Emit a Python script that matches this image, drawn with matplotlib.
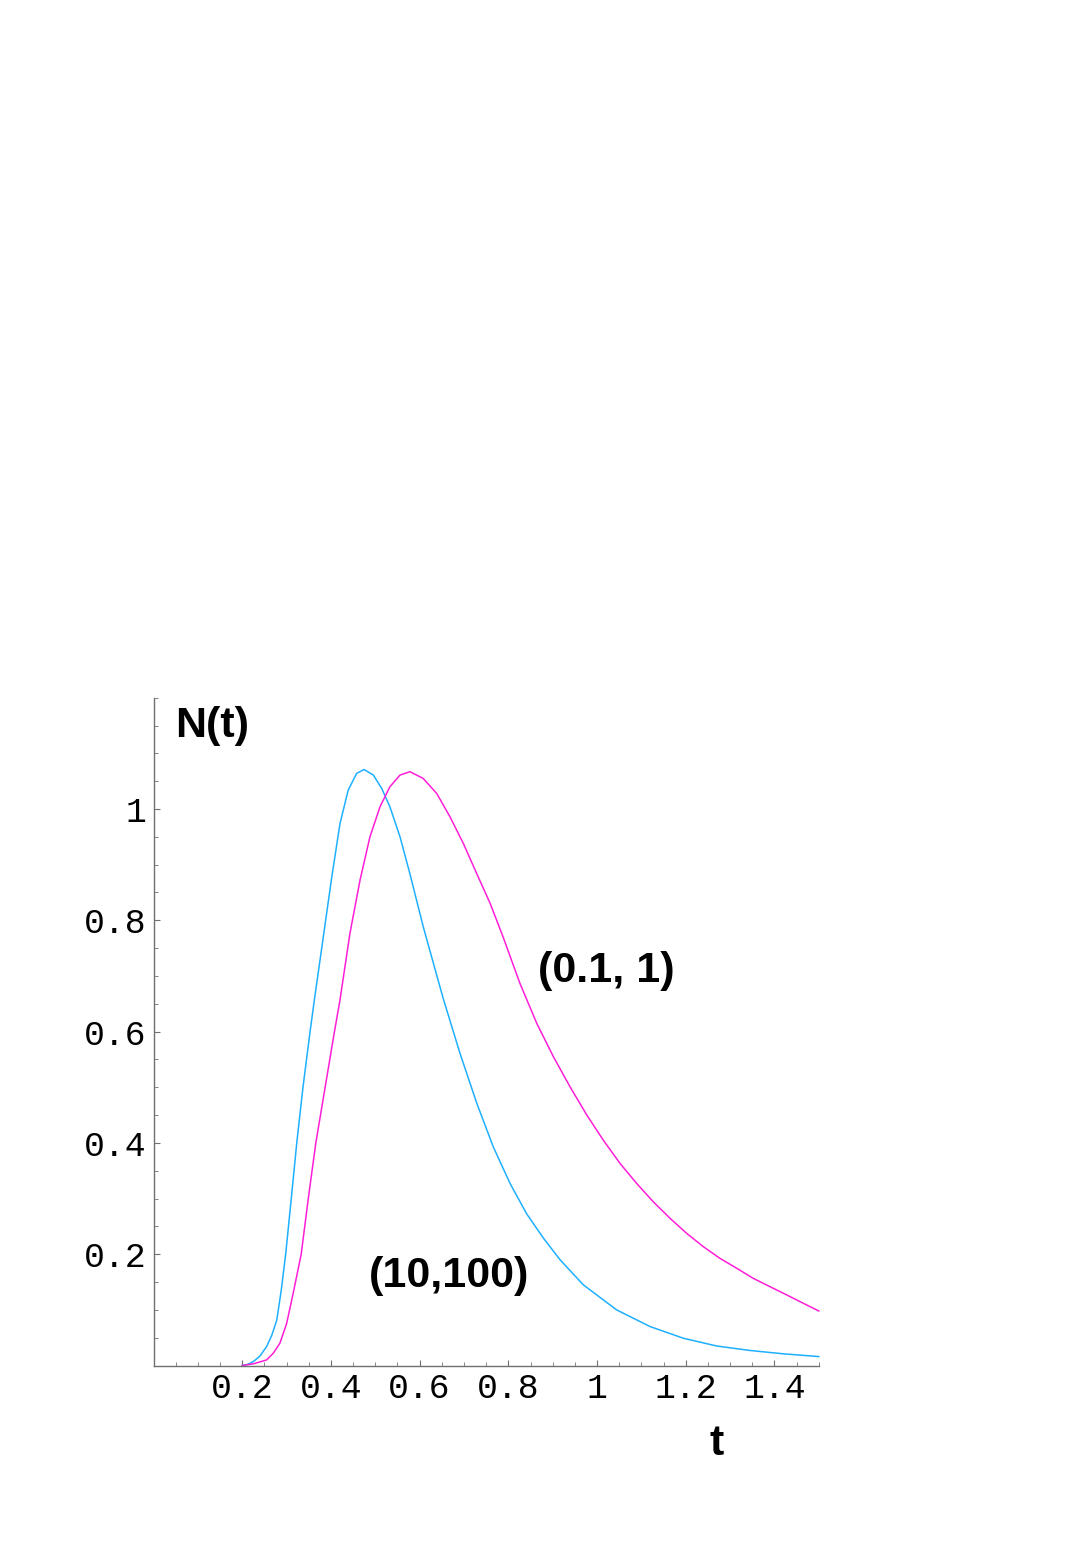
import matplotlib
matplotlib.use("Agg")
import matplotlib.pyplot as plt
from matplotlib.ticker import MultipleLocator, FixedLocator

# ---- data ----
t_cyan = [0.200, 0.212, 0.225, 0.240, 0.255, 0.267, 0.278, 0.288, 0.298, 0.310,
          0.323, 0.337, 0.353, 0.3627, 0.383, 0.402, 0.4205, 0.439, 0.458, 0.4746,
          0.4957, 0.5145, 0.533, 0.5558, 0.578, 0.608, 0.631, 0.653, 0.691, 0.729,
          0.766, 0.804, 0.841, 0.879, 0.9166, 0.969, 1.044, 1.1195, 1.1946, 1.270,
          1.345, 1.420, 1.500]
n_cyan = [0.000, 0.002, 0.007, 0.017, 0.034, 0.055, 0.082, 0.135, 0.200, 0.295,
          0.400, 0.500, 0.600, 0.657, 0.771, 0.878, 0.974, 1.034, 1.064, 1.071,
          1.061, 1.037, 1.004, 0.950, 0.884, 0.789, 0.723, 0.660, 0.561, 0.471,
          0.393, 0.327, 0.273, 0.229, 0.190, 0.145, 0.100, 0.070, 0.049, 0.035,
          0.027, 0.021, 0.016]

t_mag = [0.200, 0.225, 0.255, 0.270, 0.285, 0.300, 0.315, 0.333, 0.349, 0.366,
         0.387, 0.408, 0.4205, 0.443, 0.4656, 0.488, 0.5107, 0.533, 0.5558, 0.578,
         0.608, 0.6385, 0.6685, 0.6986, 0.7287, 0.7587, 0.7887, 0.826, 0.864, 0.9015,
         0.939, 0.977, 1.014, 1.052, 1.0895, 1.127, 1.1646, 1.202, 1.2397, 1.277,
         1.315, 1.352, 1.390, 1.428, 1.465, 1.500]
n_mag = [0.000, 0.003, 0.010, 0.022, 0.040, 0.075, 0.130, 0.200, 0.300, 0.400,
         0.500, 0.600, 0.657, 0.777, 0.872, 0.950, 1.004, 1.040, 1.061, 1.067,
         1.055, 1.028, 0.986, 0.938, 0.884, 0.831, 0.769, 0.687, 0.615, 0.555,
         0.501, 0.450, 0.405, 0.363, 0.327, 0.294, 0.2645, 0.2375, 0.2135, 0.1926,
         0.1747, 0.1567, 0.1416, 0.1267, 0.1118, 0.098]

x_ticks = [0.2, 0.4, 0.6, 0.8, 1.0, 1.2, 1.4]
x_tick_labels = ["0.2", "0.4", "0.6", "0.8", "1", "1.2", "1.4"]
y_ticks = [0.2, 0.4, 0.6, 0.8, 1.0]
y_tick_labels = ["0.2", "0.4", "0.6", "0.8", "1"]

label_mag = "(0.1, 1)"
label_cyan = "(10,100)"

CYAN = "#1EB0FF"
MAGENTA = "#FF1ED8"
AXCOL = "#707070"

fig = plt.figure(figsize=(10.9, 15.42), dpi=100)
ax = fig.add_axes([153.5 / 1090, 176.5 / 1542, (818.8 - 153.5) / 1090, (1365.5 - 697.7) / 1542])

ax.plot(t_cyan, n_cyan, color=CYAN, lw=1.1, clip_on=False, solid_joinstyle="round")
ax.plot(t_mag, n_mag, color=MAGENTA, lw=1.1, clip_on=False, solid_joinstyle="round")

ax.set_xlim(0, 1.5)
ax.set_ylim(0, 1.2)

for s in ["top", "right"]:
    ax.spines[s].set_visible(False)
for s in ["left", "bottom"]:
    ax.spines[s].set_color(AXCOL)
    ax.spines[s].set_linewidth(1.0)

ax.xaxis.set_major_locator(FixedLocator(x_ticks))
ax.set_xticklabels(x_tick_labels)
ax.yaxis.set_major_locator(FixedLocator(y_ticks))
ax.set_yticklabels(y_tick_labels)
ax.xaxis.set_minor_locator(MultipleLocator(0.05))
ax.yaxis.set_minor_locator(MultipleLocator(0.05))

ax.tick_params(which="major", direction="in", length=4.5, width=0.8, color=AXCOL,
               labelsize=25, pad=5)
ax.tick_params(which="minor", direction="in", length=3, width=0.6, color=AXCOL)
for lab in ax.get_xticklabels() + ax.get_yticklabels():
    lab.set_family("Liberation Mono")

ax.text(0.048, 1.129, "N(t)", fontsize=31, fontweight="bold",
        family="Liberation Sans", ha="left", va="baseline")
ax.text(1.269, -0.161, "t", fontsize=31, fontweight="bold",
        family="Liberation Sans", ha="center", va="baseline", clip_on=False)
ax.text(0.867, 0.690, label_mag, fontsize=31, fontweight="bold",
        family="Liberation Sans", ha="left", va="baseline")
ax.text(0.486, 0.1416, label_cyan, fontsize=31, fontweight="bold",
        family="Liberation Sans", ha="left", va="baseline")

fig.savefig("out.png", dpi=100)
